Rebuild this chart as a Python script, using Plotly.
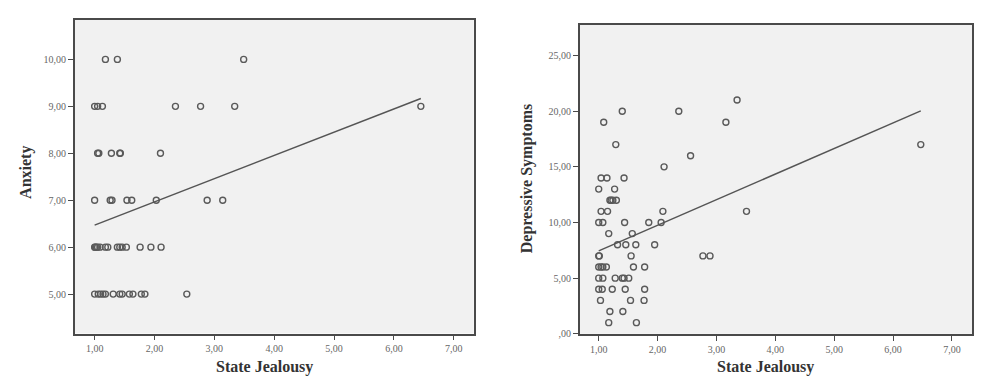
import plotly.graph_objects as go

# ---------------- data ----------------
# Panel 1: State Jealousy vs Anxiety
anx_x = [1.18, 1.38, 3.49,
         1.00, 1.05, 1.13, 2.35, 2.77, 3.34, 6.45,
         1.05, 1.07, 1.28, 1.42, 1.43, 2.10,
         1.00, 1.26, 1.29, 1.54, 1.62, 2.03, 2.88, 3.14,
         1.00, 1.01, 1.03, 1.05, 1.09, 1.18, 1.22, 1.38, 1.42, 1.46, 1.53, 1.76, 1.94, 2.11,
         1.00, 1.06, 1.10, 1.14, 1.18, 1.31, 1.42, 1.46, 1.58, 1.64, 1.78, 1.84, 2.54]
anx_y = [10, 10, 10,
         9, 9, 9, 9, 9, 9, 9,
         8, 8, 8, 8, 8, 8,
         7, 7, 7, 7, 7, 7, 7, 7,
         6, 6, 6, 6, 6, 6, 6, 6, 6, 6, 6, 6, 6, 6,
         5, 5, 5, 5, 5, 5, 5, 5, 5, 5, 5, 5, 5]
anx_fit = {"intercept": 5.975, "slope": 0.495}

# Panel 2: State Jealousy vs Depressive Symptoms
dep_x = [3.35,
         1.40, 2.36,
         1.085, 3.16,
         1.29, 6.47,
         2.56,
         2.11,
         1.04, 1.14, 1.43,
         1.00, 1.27,
         1.19, 1.21, 1.24, 1.30,
         1.04, 1.15, 2.09, 3.51,
         1.00, 1.07, 1.44, 1.85, 2.06,
         1.17, 1.57,
         1.32, 1.46, 1.63, 1.95,
         1.00, 1.01, 1.55, 2.77, 2.89,
         1.00, 1.04, 1.07, 1.13, 1.59, 1.78,
         1.00, 1.07, 1.28, 1.40, 1.43, 1.51,
         1.00, 1.06, 1.23, 1.45, 1.78,
         1.03, 1.54, 1.77,
         1.19, 1.41,
         1.17, 1.64]
dep_y = [21,
         20, 20,
         19, 19,
         17, 17,
         16,
         15,
         14, 14, 14,
         13, 13,
         12, 12, 12, 12,
         11, 11, 11, 11,
         10, 10, 10, 10, 10,
         9, 9,
         8, 8, 8, 8,
         7, 7, 7, 7, 7,
         6, 6, 6, 6, 6, 6,
         5, 5, 5, 5, 5, 5,
         4, 4, 4, 4, 4,
         3, 3, 3,
         2, 2,
         1, 1]
dep_fit = {"intercept": 5.15, "slope": 2.30}

x_ticks = [1, 2, 3, 4, 5, 6, 7]
x_ticktext = ["1,00", "2,00", "3,00", "4,00", "5,00", "6,00", "7,00"]
anx_ticks = [5, 6, 7, 8, 9, 10]
anx_ticktext = ["5,00", "6,00", "7,00", "8,00", "9,00", "10,00"]
dep_ticks = [0, 5, 10, 15, 20, 25]
dep_ticktext = [",00", "5,00", "10,00", "15,00", "20,00", "25,00"]

x_title = "State Jealousy"
anx_title = "Anxiety"
dep_title = "Depressive Symptoms"

# ---------------- styling ----------------
W, H = 1000, 382
FONT = "Liberation Serif, Times New Roman, serif"
FRAME = "#4a4a4a"
MARK = "#5a5a5a"
BG = "#f1f1f1"


def fx(px):
    return px / W


def fy(py):
    return (H - py) / H


fig = go.Figure()

for xs, ys, fit, xa, ya in [(anx_x, anx_y, anx_fit, "x", "y"),
                            (dep_x, dep_y, dep_fit, "x2", "y2")]:
    fig.add_trace(go.Scatter(
        x=xs, y=ys, mode="markers", xaxis=xa, yaxis=ya,
        marker=dict(symbol="circle-open", size=6, color=MARK,
                    line=dict(width=1.4, color=MARK)),
        showlegend=False, hoverinfo="x+y"))
    x0, x1 = min(xs), max(xs)
    fig.add_trace(go.Scatter(
        x=[x0, x1],
        y=[fit["intercept"] + fit["slope"] * x0, fit["intercept"] + fit["slope"] * x1],
        mode="lines", xaxis=xa, yaxis=ya,
        line=dict(color="#555555", width=1.5),
        showlegend=False, hoverinfo="skip"))

axis_common = dict(
    showgrid=False, zeroline=False, showline=True, mirror=True,
    linecolor=FRAME, linewidth=1.5, ticks="outside", ticklen=5,
    tickwidth=1, tickcolor=FRAME,
    tickfont=dict(family=FONT, size=10, color="#666666"),
)

fig.update_layout(
    width=W, height=H,
    margin=dict(l=0, r=0, t=0, b=0),
    paper_bgcolor="white",
    plot_bgcolor=BG,
    xaxis=dict(domain=[fx(66.7), fx(465.7)], range=[0.667, 7.333],
               tickvals=x_ticks, ticktext=x_ticktext, anchor="y", **axis_common),
    yaxis=dict(domain=[fy(330.7), fy(11.7)], range=[4.16, 10.85],
               tickvals=anx_ticks, ticktext=anx_ticktext, anchor="x", **axis_common),
    xaxis2=dict(domain=[fx(571.7), fx(964.3)], range=[0.677, 7.345],
                tickvals=x_ticks, ticktext=x_ticktext, anchor="y2", **axis_common),
    yaxis2=dict(domain=[fy(331), fy(17.3)], range=[0, 27.74],
                tickvals=dep_ticks, ticktext=dep_ticktext, anchor="x2", **axis_common),
)

title_font = dict(family=FONT, size=16, color="#333333")
annos = [
    dict(text=f"<b>{x_title}</b>", x=fx(256), y=fy(365)),
    dict(text=f"<b>{x_title}</b>", x=fx(757.7), y=fy(365)),
    dict(text=f"<b>{anx_title}</b>", x=fx(18.5), y=fy(167), textangle=-90),
    dict(text=f"<b>{dep_title}</b>", x=fx(519), y=fy(174), textangle=-90),
]
for a in annos:
    fig.add_annotation(xref="paper", yref="paper", showarrow=False,
                       xanchor="center", yanchor="middle", font=title_font, **a)

fig.write_html("out.html")
